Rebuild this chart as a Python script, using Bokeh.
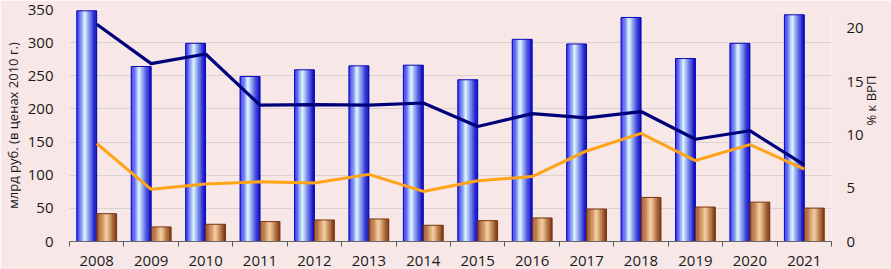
import numpy as np
from bokeh.plotting import figure
from bokeh.models import Range1d, LinearAxis, FixedTicker, ColumnDataSource
from bokeh.transform import dodge
from bokeh.embed import file_html
from bokeh.resources import INLINE

years = ["2008", "2009", "2010", "2011", "2012", "2013", "2014",
         "2015", "2016", "2017", "2018", "2019", "2020", "2021"]
bars_blue = [348, 264, 299, 249, 259, 265, 266, 244, 305, 298, 338, 276, 299, 342]
bars_brown = [42, 22, 26, 30, 32.5, 34, 24.5, 31.4, 35.5, 49, 66.5, 52, 59.4, 50.4]
pct_navy = [20.4, 16.7, 17.6, 12.8, 12.85, 12.8, 13.0, 10.8, 12.0, 11.6, 12.2, 9.6, 10.4, 7.2]
pct_orange = [9.2, 4.9, 5.4, 5.6, 5.5, 6.3, 4.7, 5.7, 6.1, 8.5, 10.15, 7.6, 9.1, 6.8]

left_ticks = [0, 50, 100, 150, 200, 250, 300, 350]
right_ticks = [0, 5, 10, 15, 20]
left_title = "млрд руб. (в ценах 2010 г.)"
right_title = "% к ВРП"

FONT = "Open Sans"
BG = "#F7E7E7"

xs = list(range(len(years)))
src = ColumnDataSource(dict(x=xs, blue=bars_blue, brown=bars_brown,
                            navy=pct_navy, orange=pct_orange))

p = figure(width=891, height=269, output_backend="svg", toolbar_location=None,
           x_range=Range1d(-0.5, len(years) - 0.5), y_range=Range1d(0, 350),
           min_border_left=62, min_border_right=56, min_border_top=9, min_border_bottom=28,
           background_fill_color=BG, border_fill_color=BG, outline_line_color=None)
p.extra_y_ranges = {"pct": Range1d(0, 350 / 16.07)}

def lerp(c1, c2, t):
    a = [int(c1[i:i + 2], 16) for i in (1, 3, 5)]
    b = [int(c2[i:i + 2], 16) for i in (1, 3, 5)]
    return "#%02x%02x%02x" % tuple(int(round(a[k] + (b[k] - a[k]) * t)) for k in range(3))

def shade(u, left, right, hi, u0, power):
    edge = lerp(left, right, u)
    span = u0 if u < u0 else 1 - u0
    k = max(0.0, 1 - abs(u - u0) / span)
    return lerp(edge, hi, k ** power)

W = 0.365
OFF = 0.183
M = 16
for j in range(M):
    u = (j + 0.5) / M
    shift = (u - 0.5) * W
    cb = shade(u, "#3A3AF4", "#0808C4", "#DDFBFF", 0.40, 1.3)
    cr = shade(u, "#A95A28", "#80360C", "#F9D2A4", 0.50, 1.2)
    p.vbar(x=dodge("x", -OFF + shift, range=p.x_range), top="blue", width=W / M * 1.35,
           source=src, fill_color=cb, line_color=None)
    p.vbar(x=dodge("x", OFF + shift, range=p.x_range), top="brown", width=W / M * 1.35,
           source=src, fill_color=cr, line_color=None)
p.vbar(x=dodge("x", -OFF, range=p.x_range), top="blue", width=W, source=src,
       fill_color=None, line_color="#0A0AB8", line_width=1)
p.vbar(x=dodge("x", OFF, range=p.x_range), top="brown", width=W, source=src,
       fill_color=None, line_color="#7A3510", line_width=1)

p.line("x", "navy", source=src, y_range_name="pct", line_color="#00007A", line_width=3.2)
p.line("x", "orange", source=src, y_range_name="pct", line_color="#FFA318", line_width=3)

# grid
p.xgrid.grid_line_color = None
p.ygrid.ticker = FixedTicker(ticks=left_ticks)
p.ygrid.grid_line_color = "#DCD0D0"
p.ygrid.grid_line_width = 1.2

# x axis
xa = p.xaxis[0]
xa.ticker = FixedTicker(ticks=xs, minor_ticks=[i - 0.5 for i in range(len(years) + 1)])
xa.major_label_overrides = {i: y for i, y in enumerate(years)}
xa.major_tick_line_color = None
xa.major_tick_out = 0
xa.major_tick_in = 0
xa.minor_tick_line_color = "#555555"
xa.minor_tick_out = 5
xa.minor_tick_in = 0
xa.axis_line_color = "#666666"
xa.axis_line_width = 1.2
xa.major_label_standoff = 9
xa.major_label_text_font = FONT
xa.major_label_text_font_size = "15px"
xa.major_label_text_color = "#1a1a1a"

# left axis
ya = p.yaxis[0]
ya.ticker = FixedTicker(ticks=left_ticks)
ya.axis_line_color = None
ya.major_tick_line_color = None
ya.major_tick_out = 0
ya.major_tick_in = 0
ya.minor_tick_line_color = None
ya.minor_tick_out = 0
ya.minor_tick_in = 0
ya.major_label_standoff = 16
ya.major_label_text_font = FONT
ya.major_label_text_font_size = "15px"
ya.major_label_text_color = "#1a1a1a"
ya.axis_label = left_title
ya.axis_label_text_font = FONT
ya.axis_label_text_font_size = "13px"
ya.axis_label_text_font_style = "normal"
ya.axis_label_text_color = "#1a1a1a"
ya.axis_label_standoff = 3

# right axis
ra = LinearAxis(y_range_name="pct", ticker=FixedTicker(ticks=right_ticks))
ra.axis_line_color = None
ra.major_tick_line_color = None
ra.major_tick_out = 0
ra.major_tick_in = 0
ra.minor_tick_line_color = None
ra.minor_tick_out = 0
ra.minor_tick_in = 0
ra.major_label_standoff = 15
ra.major_label_text_font = FONT
ra.major_label_text_font_size = "15px"
ra.major_label_text_color = "#1a1a1a"
ra.axis_label = right_title
ra.axis_label_text_font = FONT
ra.axis_label_text_font_size = "13px"
ra.axis_label_text_font_style = "normal"
ra.axis_label_text_color = "#1a1a1a"
ra.axis_label_standoff = 4
ra.axis_label_orientation = np.pi / 2
p.add_layout(ra, "right")

open("out.html", "w").write(file_html(p, INLINE))
